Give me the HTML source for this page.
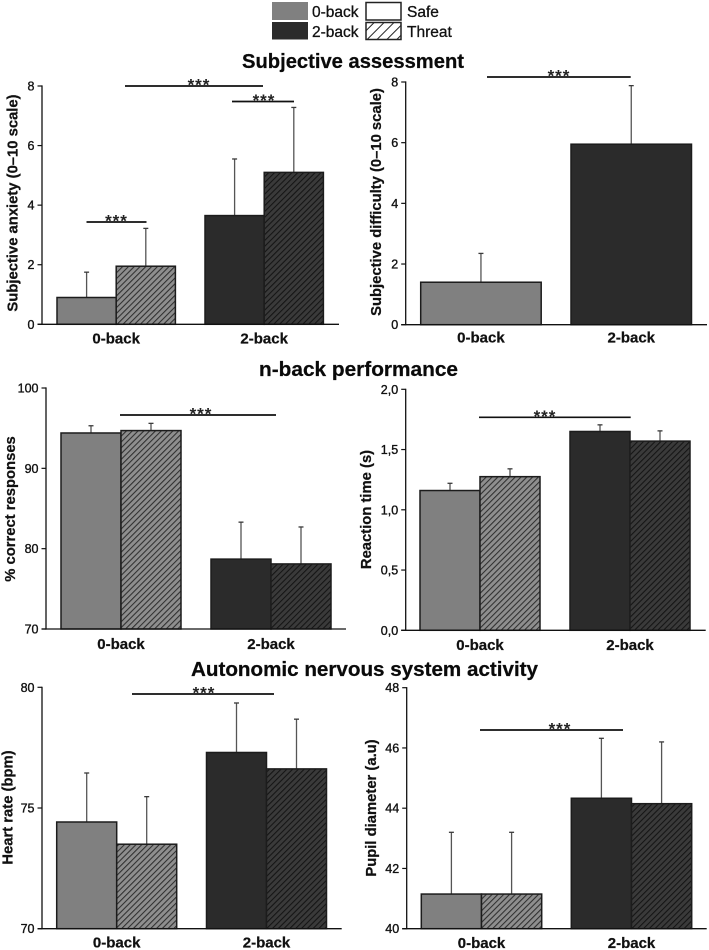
<!DOCTYPE html>
<html lang="en">
<head>
<meta charset="utf-8">
<title>Subjective, performance and autonomic measures</title>
<style>
html,body{margin:0;padding:0;background:#fff;}
#figure{display:block;width:709px;height:950px;filter:blur(0.35px);font-family:"Liberation Sans",Arial,sans-serif;}
.section{font-size:20.5px;font-weight:bold;fill:#0a0a0a;stroke:#0a0a0a;stroke-width:.25px;}
.legend-text{font-size:15.5px;fill:#111;stroke:#111;stroke-width:.3px;}
.tick{font-size:12.5px;fill:#111;text-anchor:end;stroke:#111;stroke-width:.35px;}
.cat{font-size:15px;font-weight:bold;fill:#111;text-anchor:middle;stroke:#111;stroke-width:.25px;}
.ytitle{font-size:14.8px;font-weight:bold;fill:#111;text-anchor:middle;stroke:#111;stroke-width:.25px;}
.stars{font-size:17px;font-weight:bold;fill:#222;text-anchor:middle;letter-spacing:1px;}
</style>
</head>
<body>
<svg id="figure" xmlns="http://www.w3.org/2000/svg" width="709" height="950" viewBox="0 0 709 950">
  <defs>
    <pattern id="hatch-light" patternUnits="userSpaceOnUse" width="4.1" height="4.1" patternTransform="rotate(45)">
      <rect width="4.1" height="4.1" fill="#8e8e8e"/>
      <rect x="0" width="1.05" height="4.1" fill="#2e2e2e"/>
    </pattern>
    <pattern id="hatch-dark" patternUnits="userSpaceOnUse" width="4.1" height="4.1" patternTransform="rotate(45)">
      <rect width="4.1" height="4.1" fill="#3a3a3a"/>
      <rect x="0" width="1.05" height="4.1" fill="#141414"/>
    </pattern>
    <pattern id="hatch-legend" patternUnits="userSpaceOnUse" width="7" height="7" patternTransform="rotate(45)">
      <rect width="7" height="7" fill="#fff"/>
      <rect x="0" width="1" height="7" fill="#222"/>
    </pattern>
  </defs>

  <g>
    <rect x="272" y="2" width="36" height="18" fill="#808080"/>
    <rect x="272" y="22" width="36" height="17.5" fill="#2b2b2b"/>
    <rect x="366" y="2.5" width="35" height="17.5" fill="#fff" stroke="#222" stroke-width="1.5"/>
    <rect x="366" y="22.5" width="35" height="17" fill="url(#hatch-legend)" stroke="#222" stroke-width="1.5"/>
    <text class="legend-text" x="312" y="17">0-back</text>
    <text class="legend-text" x="312" y="37">2-back</text>
    <text class="legend-text" x="407" y="17">Safe</text>
    <text class="legend-text" x="407" y="37">Threat</text>
  </g>

  <text class="section" x="242" y="68" textLength="222" lengthAdjust="spacingAndGlyphs">Subjective assessment</text>
  <text class="section" x="259" y="376" textLength="199" lengthAdjust="spacingAndGlyphs">n-back performance</text>
  <text class="section" x="191" y="676" textLength="347" lengthAdjust="spacingAndGlyphs">Autonomic nervous system activity</text>

  <g id="panel-anxiety"></g>
  <g id="panel-difficulty"></g>
  <g id="panel-correct"></g>
  <g id="panel-rt"></g>
  <g id="panel-hr"></g>
  <g id="panel-pupil"></g>
</svg>

<script>
const categories = ['0-back', '2-back'];

const anxietySafe = [0.9, 3.65];
const anxietySafeErr = [0.85, 1.9];
const anxietyThreat = [1.95, 5.1];
const anxietyThreatErr = [1.27, 2.18];
const anxietyTicks = [0, 2, 4, 6, 8];
const anxietyTickLabels = ['0', '2', '4', '6', '8'];

const difficultyAll = [1.4, 5.95];
const difficultyAllErr = [0.95, 1.93];
const difficultyTicks = [0, 2, 4, 6, 8];
const difficultyTickLabels = ['0', '2', '4', '6', '8'];

const correctSafe = [94.4, 78.7];
const correctSafeErr = [0.9, 4.6];
const correctThreat = [94.7, 78.1];
const correctThreatErr = [0.9, 4.6];
const correctTicks = [70, 80, 90, 100];
const correctTickLabels = ['70', '80', '90', '100'];

const rtSafe = [1.16, 1.65];
const rtSafeErr = [0.06, 0.055];
const rtThreat = [1.275, 1.57];
const rtThreatErr = [0.065, 0.085];
const rtTicks = [0, 0.5, 1, 1.5, 2];
const rtTickLabels = ['0,0', '0,5', '1,0', '1,5', '2,0'];

const hrSafe = [74.42, 77.3];
const hrSafeErr = [2.03, 2.05];
const hrThreat = [73.5, 76.62];
const hrThreatErr = [1.97, 2.06];
const hrTicks = [70, 75, 80];
const hrTickLabels = ['70', '75', '80'];

const pupilSafe = [41.15, 44.33];
const pupilSafeErr = [2.05, 1.99];
const pupilThreat = [41.15, 44.15];
const pupilThreatErr = [2.05, 2.05];
const pupilTicks = [40, 42, 44, 46, 48];
const pupilTickLabels = ['40', '42', '44', '46', '48'];

const NS = 'http://www.w3.org/2000/svg';
function make(parent, tag, attrs, text) {
  const el = document.createElementNS(NS, tag);
  for (const k in attrs) el.setAttribute(k, attrs[k]);
  if (text !== undefined) el.textContent = text;
  parent.appendChild(el);
  return el;
}

function drawPanel(cfg) {
  const g = document.getElementById(cfg.id);
  const lo = cfg.domain[0], hi = cfg.domain[1];
  const yScale = v => cfg.yBottom + (v - lo) / (hi - lo) * (cfg.yTop - cfg.yBottom);
  const barX = (catIndex, seriesIndex) => cfg.firstBar + catIndex * cfg.groupStep + seriesIndex * cfg.barWidth;

  cfg.series.forEach((s, si) => {
    categories.forEach((cat, ci) => {
      const x = barX(ci, si);
      const cx = x + cfg.barWidth / 2;
      const y = yScale(s.values[ci]);
      const top = yScale(s.values[ci] + s.errors[ci]);
      const err = make(g, 'line', {x1: cx, x2: cx, y1: y, y2: top, stroke: '#555', 'stroke-width': 1.3});
      
      
      const cap = make(g, 'line', {x1: cx - 2.5, x2: cx + 2.5, y1: top, y2: top, stroke: '#3a3a3a', 'stroke-width': 1.3});
      
      
      let fill;
      if (s.name === 'threat') fill = ci === 0 ? 'url(#hatch-light)' : 'url(#hatch-dark)';
      else fill = ci === 0 ? '#808080' : '#2b2b2b';
      const bar = make(g, 'rect', {x: x, y: y, width: cfg.barWidth, height: cfg.yBottom - y, fill: fill, stroke: '#1c1c1c', 'stroke-width': 1.5});
      
      
    });
  });

  const yAxis = make(g, 'line', {x1: cfg.axisX, x2: cfg.axisX, y1: yScale(hi) - 0.6, y2: cfg.yBottom + 0.6, stroke: '#111', 'stroke-width': 1.3});
  
  
  const xAxis = make(g, 'line', {x1: cfg.axisX - 4.5, x2: cfg.axisEnd, y1: cfg.yBottom, y2: cfg.yBottom, stroke: '#111', 'stroke-width': 1.3});
  
  

  cfg.ticks.forEach((t, i) => {
    const y = yScale(t);
    const mark = make(g, 'line', {x1: cfg.axisX - 4.5, x2: cfg.axisX, y1: y, y2: y, stroke: '#111', 'stroke-width': 1.2});
    
    
    const label = make(g, 'text', {class: 'tick', x: cfg.axisX - 7.5, y: y + 4.5}, cfg.tickLabels[i]);
    
    
  });

  categories.forEach((cat, ci) => {
    const center = barX(ci, 0) + cfg.series.length * cfg.barWidth / 2;
    const label = make(g, 'text', {class: 'cat', x: center, y: cfg.catY}, cat);
    
    
  });

  const title = make(g, 'text', {class: 'ytitle', transform: 'translate(' + cfg.titleX + ',' + cfg.titleY + ') rotate(-90)'}, cfg.title);
  
  

  cfg.brackets.forEach(b => {
    const line = make(g, 'line', {x1: b.from, x2: b.to, y1: b.y, y2: b.y, stroke: '#111', 'stroke-width': 1.7});
    
    
    const stars = make(g, 'text', {class: 'stars', x: b.star, y: b.y + 4.5}, '***');
    
    
  });
}

drawPanel({
  id: 'panel-anxiety', title: 'Subjective anxiety (0\u201310 scale)',
  domain: [0, 8], yBottom: 324.3, yTop: 86, axisX: 42, axisEnd: 339,
  firstBar: 57, barWidth: 59.2, groupStep: 148,
  series: [{name: 'safe', values: anxietySafe, errors: anxietySafeErr}, {name: 'threat', values: anxietyThreat, errors: anxietyThreatErr}],
  ticks: anxietyTicks, tickLabels: anxietyTickLabels,
  catY: 343.5, titleX: 17.5, titleY: 203,
  brackets: [{from: 125, to: 263, y: 86, star: 199}, {from: 232, to: 294, y: 101.5, star: 264}, {from: 86.5, to: 146.5, y: 222, star: 116.5}]
});
drawPanel({
  id: 'panel-difficulty', title: 'Subjective difficulty (0\u201310 scale)',
  domain: [0, 8], yBottom: 324.7, yTop: 82, axisX: 405.7, axisEnd: 707,
  firstBar: 420.7, barWidth: 120.5, groupStep: 150.3,
  series: [{name: 'all', values: difficultyAll, errors: difficultyAllErr}],
  ticks: difficultyTicks, tickLabels: difficultyTickLabels,
  catY: 342.5, titleX: 381, titleY: 202,
  brackets: [{from: 487, to: 630.7, y: 77, star: 559}]
});
drawPanel({
  id: 'panel-correct', title: '% correct responses',
  domain: [70, 100], yBottom: 629, yTop: 388, axisX: 46, axisEnd: 346,
  firstBar: 61, barWidth: 60, groupStep: 150,
  series: [{name: 'safe', values: correctSafe, errors: correctSafeErr}, {name: 'threat', values: correctThreat, errors: correctThreatErr}],
  ticks: correctTicks, tickLabels: correctTickLabels,
  catY: 649, titleX: 15, titleY: 509,
  brackets: [{from: 120, to: 276, y: 415, star: 201}]
});
drawPanel({
  id: 'panel-rt', title: 'Reaction time (s)',
  domain: [0, 2], yBottom: 630.3, yTop: 389.3, axisX: 405.7, axisEnd: 705.7,
  firstBar: 420, barWidth: 60, groupStep: 150,
  series: [{name: 'safe', values: rtSafe, errors: rtSafeErr}, {name: 'threat', values: rtThreat, errors: rtThreatErr}],
  ticks: rtTicks, tickLabels: rtTickLabels,
  catY: 650, titleX: 371, titleY: 509.5,
  brackets: [{from: 479, to: 630.7, y: 417.3, star: 545}]
});
drawPanel({
  id: 'panel-hr', title: 'Heart rate (bpm)',
  domain: [70, 80], yBottom: 928.7, yTop: 687.3, axisX: 42, axisEnd: 341.7,
  firstBar: 56.7, barWidth: 60, groupStep: 149.8,
  series: [{name: 'safe', values: hrSafe, errors: hrSafeErr}, {name: 'threat', values: hrThreat, errors: hrThreatErr}],
  ticks: hrTicks, tickLabels: hrTickLabels,
  catY: 947.5, titleX: 12.7, titleY: 807.5,
  brackets: [{from: 132, to: 274, y: 694, star: 204}]
});
drawPanel({
  id: 'panel-pupil', title: 'Pupil diameter (a.u)',
  domain: [40, 48], yBottom: 928.7, yTop: 687.7, axisX: 406.7, axisEnd: 706.7,
  firstBar: 421.3, barWidth: 60.2, groupStep: 150,
  series: [{name: 'safe', values: pupilSafe, errors: pupilSafeErr}, {name: 'threat', values: pupilThreat, errors: pupilThreatErr}],
  ticks: pupilTicks, tickLabels: pupilTickLabels,
  catY: 948, titleX: 376, titleY: 808,
  brackets: [{from: 480, to: 623, y: 730, star: 560}]
});
</script>
</body>
</html>
